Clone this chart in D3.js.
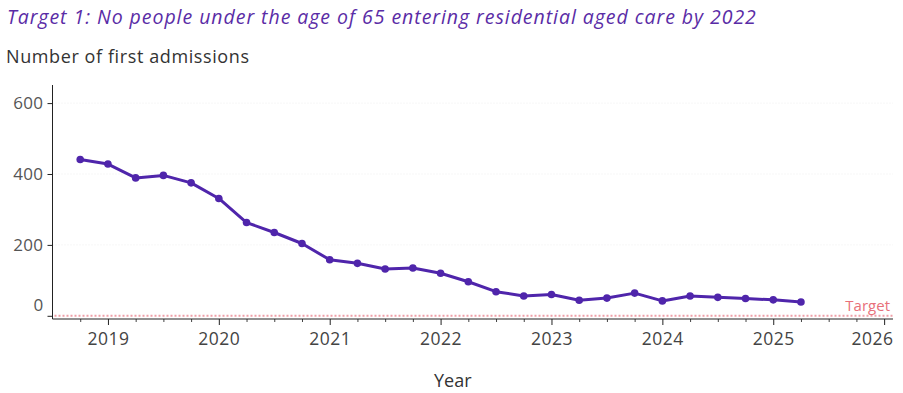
<!DOCTYPE html>
<html>
<head>
<meta charset="utf-8">
<script src="https://cdn.jsdelivr.net/npm/d3@7"></script>
<style>
  body { margin: 0; background: #fff; }
  svg { display: block; font-family: "Open Sans", "Noto Sans", sans-serif; }
</style>
</head>
<body>
<div id="chart"></div>
<script>
// data: quarterly first admissions (year as decimal)
const quarters = [2018.75, 2019, 2019.25, 2019.5, 2019.75, 2020, 2020.25, 2020.5, 2020.75,
  2021, 2021.25, 2021.5, 2021.75, 2022, 2022.25, 2022.5, 2022.75, 2023, 2023.25, 2023.5,
  2023.75, 2024, 2024.25, 2024.5, 2024.75, 2025, 2025.25];
const admissions = [441, 428, 389, 396, 375, 331, 263, 235, 204,
  158, 148, 132, 135, 120, 96, 68, 56, 60, 44, 50,
  64, 42, 56, 52, 49, 45, 39];
const yearTicks = [2019, 2020, 2021, 2022, 2023, 2024, 2025, 2026];
const yTicks = [0, 200, 400, 600];
const targetValue = 0;

const width = 903, height = 393;
const margin = { left: 52.5, right: 10, top: 85, bottom: 74 };

const svg = d3.select("#chart").append("svg")
  .attr("width", width)
  .attr("height", height);

// titles
svg.append("text")
  .attr("x", 7).attr("y", 24)
  .attr("font-size", 19.5)
  .attr("font-style", "italic")
  .attr("font-weight", 500)
  .attr("letter-spacing", 0.95)
  .attr("fill", "#5a2ca6")
  .text("Target 1: No people under the age of 65 entering residential aged care by 2022");

svg.append("text")
  .attr("x", 6).attr("y", 63)
  .attr("font-size", 18)
  .attr("letter-spacing", 0.6)
  .attr("fill", "#333")
  .text("Number of first admissions");

const x = d3.scaleLinear()
  .domain([2018.5, 2026.08])
  .range([margin.left, width - margin.right]);

const y = d3.scaleLinear()
  .domain([-9, 651])
  .range([height - margin.bottom, margin.top]);

// gridlines
svg.append("g")
  .selectAll("line")
  .data(yTicks.filter(d => d > 0))
  .join("line")
  .attr("x1", margin.left).attr("x2", width - margin.right)
  .attr("y1", d => y(d)).attr("y2", d => y(d))
  .attr("stroke", "#eee")
  .attr("stroke-dasharray", "1,2");

// y axis
const yAxis = svg.append("g")
  .attr("transform", `translate(${margin.left},0)`)
  .call(d3.axisLeft(y).tickValues(yTicks).tickSize(5).tickPadding(4));
yAxis.select(".domain").attr("stroke", "#222").attr("d", `M0,${margin.top}V${y.range()[0]}`);
yAxis.selectAll(".tick line").attr("stroke", "#222");
yAxis.selectAll(".tick text")
  .attr("font-size", 17)
  .attr("letter-spacing", 0.4)
  .attr("font-family", "Open Sans, sans-serif")
  .attr("fill", "#555")
  .attr("dy", d => d === 0 ? "-0.3em" : "0.32em");

// x axis: minor quarter ticks, then year ticks
const xAxisY = y.range()[0];
const quarterTicks = d3.range(2018.75, 2026.01, 0.25).filter(d => !yearTicks.includes(d));
svg.append("g")
  .attr("transform", `translate(0,${xAxisY})`)
  .call(d3.axisBottom(x).tickValues(quarterTicks).tickSize(3).tickFormat(""))
  .call(g => g.select(".domain").remove())
  .selectAll(".tick line").attr("stroke", "#444");

const xAxis = svg.append("g")
  .attr("transform", `translate(0,${xAxisY})`)
  .call(d3.axisBottom(x).tickValues(yearTicks).tickSize(6).tickPadding(8).tickFormat(d3.format("d")));
xAxis.select(".domain").attr("stroke", "#222").attr("d", `M${margin.left},0H${width - margin.right}`);
xAxis.selectAll(".tick line").attr("stroke", "#222");
xAxis.selectAll(".tick text")
  .attr("font-size", 17.5)
  .attr("letter-spacing", 0.5)
  .attr("font-family", "Open Sans, sans-serif")
  .attr("fill", "#444");
// last label kept inside the frame
xAxis.selectAll(".tick text")
  .filter(d => d === yearTicks[yearTicks.length - 1])
  .attr("text-anchor", "end")
  .attr("x", (width - 10) - x(yearTicks[yearTicks.length - 1]));

svg.append("text")
  .attr("x", (margin.left + width - margin.right) / 2 - 20)
  .attr("y", 387)
  .attr("text-anchor", "middle")
  .attr("font-size", 18)
  .attr("fill", "#333")
  .text("Year");

// target line
svg.append("line")
  .attr("x1", margin.left + 2).attr("x2", width - margin.right)
  .attr("y1", y(targetValue)).attr("y2", y(targetValue))
  .attr("stroke", "#eea0a8")
  .attr("stroke-width", 2)
  .attr("stroke-dasharray", "2,2");

svg.append("text")
  .attr("x", width - 13).attr("y", y(targetValue) - 5)
  .attr("text-anchor", "end")
  .attr("font-size", 15)
  .attr("fill", "#e8707a")
  .text("Target");

// line + points
const pts = quarters.map((q, i) => ({ q, v: admissions[i] }));
const line = d3.line().x(d => x(d.q)).y(d => y(d.v));

svg.append("path")
  .datum(pts)
  .attr("fill", "none")
  .attr("stroke", "#4f25ab")
  .attr("stroke-width", 3)
  .attr("stroke-linejoin", "round")
  .attr("d", line);

svg.append("g")
  .selectAll("circle")
  .data(pts)
  .join("circle")
  .attr("cx", d => x(d.q))
  .attr("cy", d => y(d.v))
  .attr("r", 3.8)
  .attr("fill", "#4f25ab");
</script>
</body>
</html>
